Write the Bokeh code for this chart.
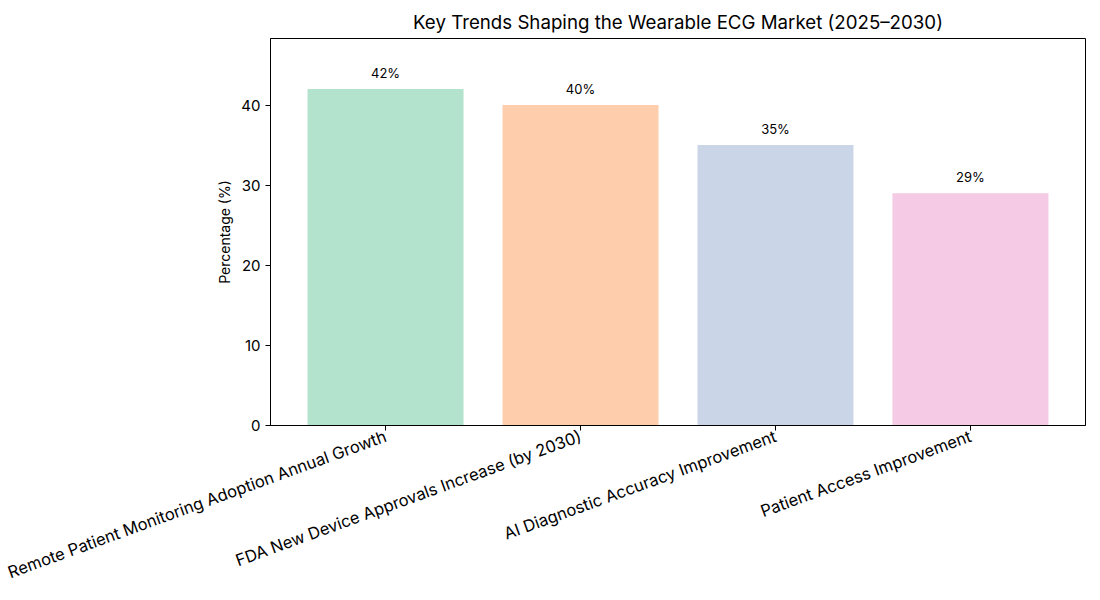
from bokeh.plotting import figure
from bokeh.models import ColumnDataSource, FactorRange, FixedTicker, LabelSet
from bokeh.core.properties import value
from bokeh.embed import file_html
from bokeh.resources import INLINE
import math

categories = [
    "Remote Patient Monitoring Adoption Annual Growth",
    "FDA New Device Approvals Increase (by 2030)",
    "AI Diagnostic Accuracy Improvement",
    "Patient Access Improvement",
]
values = [42, 40, 35, 29]
colors = ["#b3e2cd", "#fdcdac", "#cbd5e8", "#f4cae4"]
labels = [f"{v}%" for v in values]
y_ticks = [0, 10, 20, 30, 40]

FONT = "Inter"

src = ColumnDataSource(dict(
    cat=categories, val=values, color=colors, label=labels,
    label_y=[v + 1 for v in values],
))

p = figure(
    x_range=FactorRange(*categories, range_padding=0.045, range_padding_units="percent"),
    y_range=(0, max(values) * 1.15),
    frame_width=815, frame_height=387,
    min_border_left=270, min_border_right=7, min_border_top=38, min_border_bottom=10,
    output_backend="svg", toolbar_location=None,
    title="Key Trends Shaping the Wearable ECG Market (2025\u20132030)",
)

p.vbar(x="cat", top="val", width=0.8, color="color", source=src, line_color=None)

p.add_layout(LabelSet(x="cat", y="label_y", text="label", source=src,
                      text_align="center", text_baseline="bottom",
                      text_font=value(FONT), text_font_size="13px", text_color="black"))

p.title.text_font = FONT
p.title.text_font_size = "18.7px"
p.title.text_font_style = "normal"
p.title.align = "center"
p.title.text_color = "black"

p.xgrid.visible = False
p.ygrid.visible = False
p.outline_line_color = "black"
p.outline_line_width = 1

p.yaxis.ticker = FixedTicker(ticks=y_ticks)
p.yaxis.axis_label = "Percentage (%)"
p.yaxis.axis_label_text_font = FONT
p.yaxis.axis_label_text_font_size = "14px"
p.yaxis.axis_label_text_font_style = "normal"
p.yaxis.axis_label_text_color = "black"
p.yaxis.axis_label_standoff = 5

for ax in (p.xaxis, p.yaxis):
    ax.major_label_text_font = FONT
    ax.major_label_text_color = "black"
    ax.axis_line_color = "black"
    ax.major_tick_line_color = "black"
    ax.major_tick_out = 5
    ax.major_tick_in = 0
    ax.minor_tick_line_color = None

p.yaxis.major_label_text_font_size = "15px"
p.xaxis.major_label_text_font_size = "16.5px"
p.xaxis.major_label_orientation = math.radians(20)
p.xaxis.group_text_font_size = "0px"

open("out.html", "w").write(file_html(p, INLINE))
